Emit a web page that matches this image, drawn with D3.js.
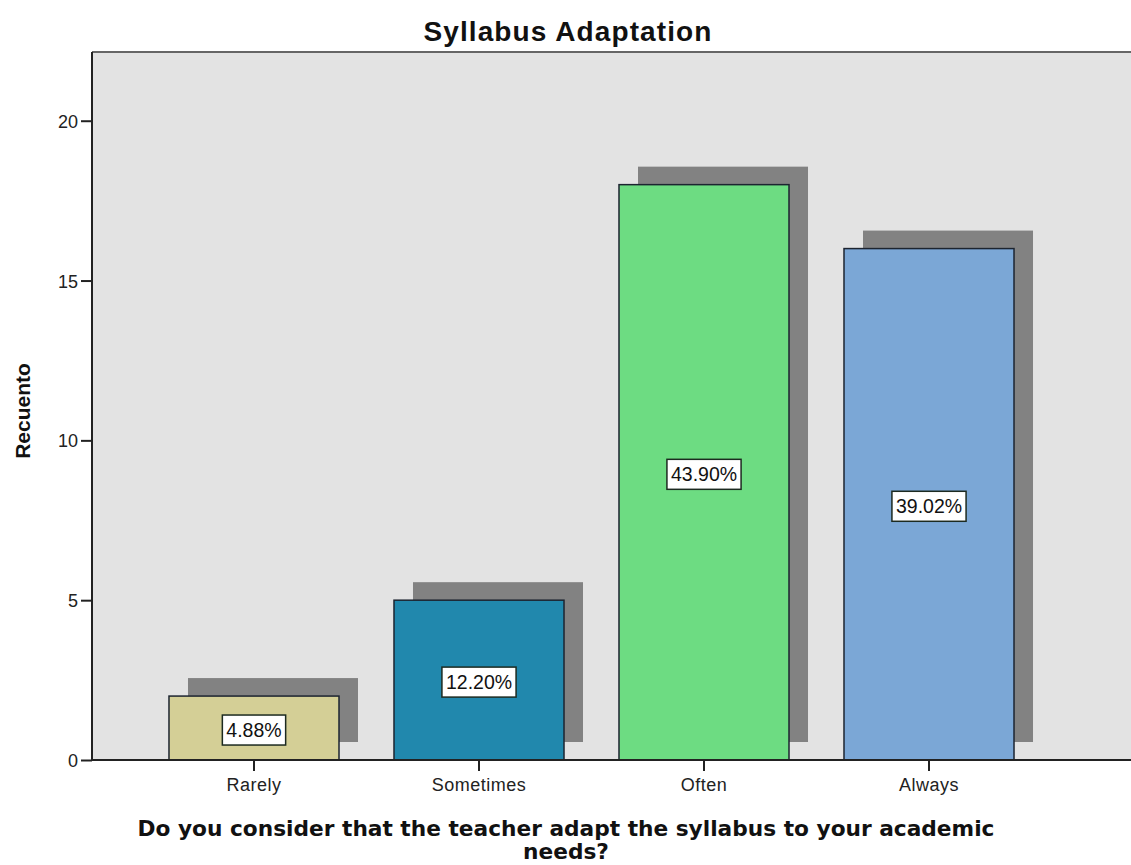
<!DOCTYPE html>
<html>
<head>
<meta charset="utf-8">
<script src="https://d3js.org/d3.v7.min.js"></script>
<style>
  body { margin: 0; background: #fff; }
  svg { display: block; font-family: "Liberation Sans", Arial, sans-serif; }
</style>
</head>
<body>
<div id="chart"></div>
<script>
// Chart data
const categories = ["Rarely", "Sometimes", "Often", "Always"];
const counts = [2, 5, 18, 16];
const percentLabels = ["4.88%", "12.20%", "43.90%", "39.02%"];
const barColors = ["#d4cf96", "#2188ad", "#6ddc82", "#7ba7d6"];
const yTicks = [0, 5, 10, 15, 20];

const width = 1131, height = 865;
const plot = { left: 92, top: 52, right: 1140, bottom: 760 };

const svg = d3.select("#chart").append("svg")
  .attr("width", width)
  .attr("height", height);

// Scales
const x = d3.scaleBand()
  .domain(categories)
  .range([114, 1069])
  .paddingInner(0.2444)
  .paddingOuter(0.2444);

const y = d3.scaleLinear()
  .domain([0, 22.15])
  .range([plot.bottom, plot.top]);

// Plot background
svg.append("rect")
  .attr("x", plot.left)
  .attr("y", plot.top)
  .attr("width", plot.right - plot.left)
  .attr("height", plot.bottom - plot.top)
  .attr("fill", "#e3e3e3");

svg.append("line")
  .attr("x1", plot.left).attr("x2", width)
  .attr("y1", plot.top).attr("y2", plot.top)
  .attr("stroke", "#666").attr("stroke-width", 2);

// Shadows
const shadowDx = 19, shadowDy = -18;
svg.append("g").selectAll("rect")
  .data(counts)
  .join("rect")
  .attr("x", (d, i) => x(categories[i]) + shadowDx)
  .attr("y", d => y(d) + shadowDy)
  .attr("width", x.bandwidth())
  .attr("height", d => y(0) - y(d))
  .attr("fill", "#828282");

// Bars
svg.append("g").selectAll("rect")
  .data(counts)
  .join("rect")
  .attr("x", (d, i) => x(categories[i]))
  .attr("y", d => y(d))
  .attr("width", x.bandwidth())
  .attr("height", d => y(0) - y(d))
  .attr("fill", (d, i) => barColors[i])
  .attr("stroke", "#1c2430")
  .attr("stroke-width", 1.5);

// Percent labels
const labels = svg.append("g").selectAll("g")
  .data(counts)
  .join("g")
  .attr("transform", (d, i) => `translate(${x(categories[i]) + x.bandwidth() / 2},${(y(d) + y(0)) / 2 + 2})`);

labels.each(function(d, i) {
  const g = d3.select(this);
  const t = g.append("text")
    .attr("text-anchor", "middle")
    .attr("dy", "0.36em")
    .style("font-size", "19.5px")
    .attr("fill", "#111")
    .text(percentLabels[i]);
  const bb = t.node().getBBox();
  g.insert("rect", "text")
    .attr("x", bb.x - 4)
    .attr("y", -15)
    .attr("width", bb.width + 8)
    .attr("height", 30)
    .attr("fill", "#fff")
    .attr("stroke", "#1c2a20")
    .attr("stroke-width", 1.5);
});

// Axes
const yAxis = svg.append("g")
  .attr("transform", `translate(${plot.left},0)`)
  .call(d3.axisLeft(y).tickValues(yTicks).tickSize(11).tickSizeOuter(0));
yAxis.select(".domain").attr("stroke", "#222").attr("stroke-width", 2)
  .attr("d", `M0,${plot.top}V${plot.bottom}`);
yAxis.selectAll(".tick line").attr("stroke", "#222").attr("stroke-width", 2);
yAxis.selectAll(".tick text").style("font-size", "18px").attr("fill", "#222")
  .attr("x", -14).attr("dy", "0.36em");

const xAxis = svg.append("g")
  .attr("transform", `translate(0,${plot.bottom})`)
  .call(d3.axisBottom(x).tickSize(11).tickSizeOuter(0));
xAxis.select(".domain").attr("stroke", "#222").attr("stroke-width", 2)
  .attr("d", `M${plot.left},0H${width}`);
xAxis.selectAll(".tick line").attr("stroke", "#222").attr("stroke-width", 2);
xAxis.selectAll(".tick text").style("font-size", "18px").style("letter-spacing", "0.5px")
  .attr("fill", "#222").attr("y", 18);

// Titles
svg.append("text")
  .attr("x", 568).attr("y", 41)
  .attr("text-anchor", "middle")
  .style("font-size", "28px").style("font-weight", "bold")
  .style("letter-spacing", "1.1px")
  .attr("fill", "#111")
  .text("Syllabus Adaptation");

const xTitle = svg.append("text")
  .attr("text-anchor", "middle")
  .style("font-family", "'DejaVu Sans', Verdana, sans-serif")
  .style("font-size", "21.7px").style("font-weight", "bold")
  .attr("fill", "#111");
xTitle.append("tspan").attr("x", 566).attr("y", 836)
  .text("Do you consider that the teacher adapt the syllabus to your academic");
xTitle.append("tspan").attr("x", 566).attr("y", 859)
  .text("needs?");

svg.append("text")
  .attr("transform", "translate(30,411) rotate(-90)")
  .attr("text-anchor", "middle")
  .style("font-size", "21px").style("font-weight", "bold")
  .attr("fill", "#111")
  .text("Recuento");
</script>
</body>
</html>
